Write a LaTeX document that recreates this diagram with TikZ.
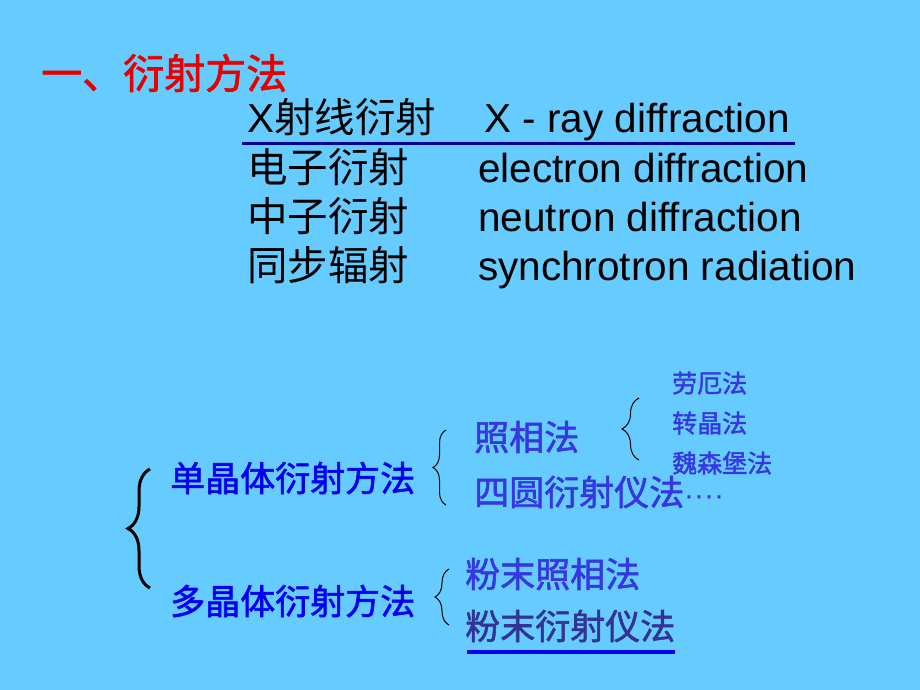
\documentclass[tikz,border=0pt]{standalone}
\usepackage{fontspec}
\setmainfont{Liberation Sans}
\newfontfamily\cjk{Noto Sans CJK SC}
\newfontfamily\cjkb[FakeBold=1.6]{Noto Sans CJK SC}
\usetikzlibrary{positioning, decorations.pathreplacing}

\definecolor{slidebg}{RGB}{102,204,255}
\definecolor{titlered}{RGB}{230,0,0}
\definecolor{methodblue}{RGB}{0,0,240}
\definecolor{subblue}{RGB}{55,55,225}
\definecolor{darkpurple}{RGB}{51,51,150}
\definecolor{lineblue}{RGB}{0,0,150}

\tikzset{
  rowtext/.style={anchor=base west, inner sep=0pt, font=\fontsize{40.5}{40.5}\selectfont},
  method/.style={anchor=west, inner sep=0pt, text=methodblue, font=\cjkb\fontsize{35}{35}\selectfont},
  sub/.style={anchor=west, inner sep=0pt, text=subblue, font=\cjkb\fontsize{35}{35}\selectfont},
  small/.style={anchor=west, inner sep=0pt, text=subblue, font=\cjkb\fontsize{25}{25}\selectfont},
  bracepath/.style={decorate, decoration={brace, amplitude=#1}},
}

\begin{document}
\begin{tikzpicture}[x=1pt, y=-1pt]
    \fill[slidebg] (0,0) rectangle (920,690);
    \useasboundingbox (0,0) rectangle (920,690);

    % Title
    \node[anchor=west, inner sep=0pt, text=titlered, font=\cjkb\fontsize{41}{41}\selectfont] (title) at (41,73) {一、衍射方法};

    % Table of methods
    \node[rowtext] (xr) at (247,132) {X{\cjk 射线衍射}};
    \node[rowtext] (xren) at (484,132) {X - ray diffraction};
    \node[rowtext] (el) at (247,182) {\cjk 电子衍射};
    \node[rowtext] (elen) at (478,182) {electron diffraction};
    \node[rowtext] (ne) at (247,231) {\cjk 中子衍射};
    \node[rowtext] (neen) at (478,231) {neutron diffraction};
    \node[rowtext] (sy) at (247,280) {\cjk 同步辐射};
    \node[rowtext] (syen) at (478,280) {synchrotron radiation};
    \coordinate (ulA) at (242,143);
    \coordinate (ulB) at (795,143);
    \draw[lineblue, line width=3pt] (ulA) -- (ulB);

    % Single crystal / polycrystal
    \node[method] (single) at (170,478) {单晶体衍射方法};
    \node[method] (poly) at (170,601) {多晶体衍射方法};
    \draw[bracepath=22, line width=3pt] (150,588) -- (150,469);

    \node[sub] (photo) at (474,437) {照相法};
    \node[sub] (four) at (474,492) {四圆衍射仪法{\rmfamily\fontsize{30}{30}\selectfont····}};
    \draw[bracepath=13, line width=1pt] (446,505) -- (446,430);

    \node[small] (laue) at (672,383) {劳厄法};
    \node[small] (rot) at (672,423) {转晶法};
    \node[small] (weis) at (672,463) {魏森堡法};
    \draw[bracepath=17, line width=1pt] (639,460) -- (639,398);

    \node[sub] (pphoto) at (465,574) {粉末照相法};
    \node[sub, text=darkpurple] (pdiff) at (465,626) {粉末衍射仪法};
    \draw[bracepath=14, line width=1pt] (449,625) -- (449,569);
    \draw[methodblue, line width=4pt] (pdiff.south west) ++(2,10) -- ([yshift=-10pt]pdiff.south east);
\end{tikzpicture}
\end{document}
